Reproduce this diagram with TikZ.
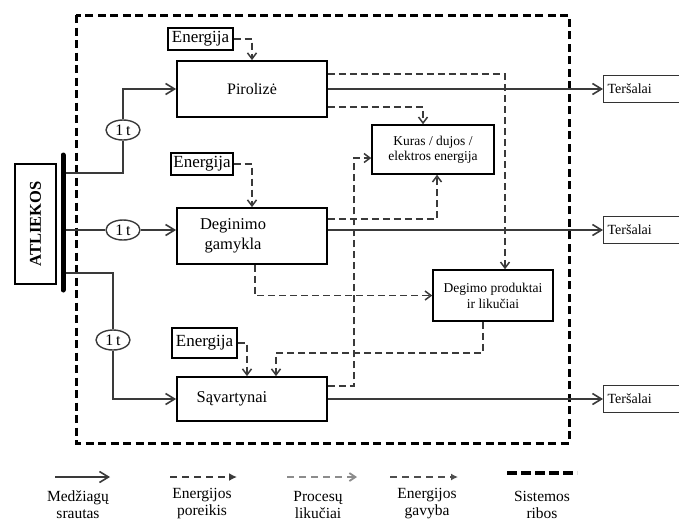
\documentclass[tikz,border=0pt]{standalone}
\usepackage{fontspec}
\setmainfont{Liberation Serif}
\usetikzlibrary{arrows.meta,calc,shapes.geometric}
\definecolor{flowgray}{HTML}{3A3A3A}
\definecolor{resgray}{HTML}{8C8C8C}
\begin{document}
\begin{tikzpicture}[x=1pt,y=-1pt,
  box/.style={draw=black, line width=1.8pt, fill=white, inner sep=0pt, align=center, font=\fontsize{16}{19}\selectfont},
  ebox/.style={draw=black, line width=1.2pt, fill=white, inner sep=0pt, align=center, font=\fontsize{17}{19}\selectfont},
  tbox/.style={draw=black!80, line width=1.3pt, fill=white, inner xsep=4pt, inner ysep=0pt, text width=80pt, align=left, minimum height=27pt, anchor=west, font=\fontsize{14}{16}\selectfont},
  ell/.style={draw=flowgray, line width=1.4pt, ellipse, fill=white, inner sep=0pt, minimum width=34pt, minimum height=20pt, font=\fontsize{16}{18}\selectfont},
  line/.style={draw=flowgray, line width=1.6pt},
  flow/.style={draw=flowgray, line width=1.6pt, -{Straight Barb[length=9pt,width=11pt,line width=1.6pt]}},
  dflow/.style={draw=flowgray, line width=1.7pt, dash pattern=on 7pt off 4pt, -{Straight Barb[length=6pt,width=9pt,line width=1.5pt]}},
  border/.style={draw=black, line width=3pt, dash pattern=on 8pt off 4.5pt},
  leg/.style={align=center, font=\fontsize{15.5}{17}\selectfont}
]
\clip (0,0) rectangle (679,523);
\useasboundingbox (0,0) rectangle (679,523);
\fill[white] (0,0) rectangle (679,523);

% system boundary
\draw[border] (76,15) rectangle (569,443);

% main boxes
\node[box, minimum width=150pt, minimum height=56pt] (pir) at (252,89) {Pirolizė};
\node[box, minimum width=150pt, minimum height=56pt,
  label={[align=center, font=\fontsize{16.5}{20}\selectfont, xshift=-19pt]center:{Deginimo\\gamykla}}] (deg) at (252,236) {};
\node[box, minimum width=150pt, minimum height=44pt,
  label={[font=\fontsize{16.5}{19}\selectfont, xshift=-20pt]center:{Sąvartynai}}] (sav) at (252,399) {};
\node[box, line width=1.5pt, minimum width=122pt, minimum height=49pt, font=\fontsize{13.5}{15}\selectfont] (kur) at (433,149.5) {Kuras / dujos /\\elektros energija};
\node[box, line width=1.5pt, minimum width=120pt, minimum height=51pt, font=\fontsize{13.5}{16}\selectfont] (dp) at (493,295.5) {Degimo produktai\\ir likučiai};

% energy boxes
\node[ebox, minimum width=65pt, minimum height=22pt] (e1) at (200.5,39) {Energija};
\node[ebox, minimum width=62pt, minimum height=22pt] (e2) at (202,164) {Energija};
\node[ebox, minimum width=65pt, minimum height=30pt] (e3) at (204.5,343) {Energija};

% pollutant boxes
\node[tbox] (t1) at (603,89) {Teršalai};
\node[tbox] (t2) at (603,230) {Teršalai};
\node[tbox] (t3) at (603,399) {Teršalai};

% waste source
\node[box, line width=1.5pt, rotate=90, minimum width=120pt, minimum height=41pt, font=\fontsize{16.5}{19}\selectfont\bfseries] (atl) at (35.5,224) {ATLIEKOS};
\coordinate (bt) at (63,155);
\coordinate (bb) at (63,290);
\coordinate (b1) at (63,173);
\coordinate (b2) at (63,230);
\coordinate (b3) at (63,273);

% 1 t ellipses
\node[ell] (o1) at (123,130) {1\,t};
\node[ell] (o2) at (123,230) {1\,t};
\node[ell] (o3) at (113,340) {1\,t};

% material flows
\draw[line] (b1) -| (o1.south);
\draw[flow] (o1.north) |- (pir.west);
\draw[line] (b2) -- (o2.west);
\draw[flow] (o2.east) -- (o2 -| deg.west);
\draw[line] (b3) -| (o3.north);
\draw[flow] (o3.south) |- (sav.west);
\draw[line width=5pt, line cap=round, draw=black] (bt) -- (bb);

% process residues / energy recovery (dashed)
\coordinate (p1) at ($(pir.north east)+(0,14)$);
\draw[dflow] (p1) -| ([xshift=12pt]dp.north);
\coordinate (p2) at ($(pir.south east)+(0,-11)$);
\draw[dflow] (p2) -| ([xshift=-10pt]kur.north);
\coordinate (g1) at ($(deg.north east)+(0,12)$);
\draw[dflow] (g1) -| ([xshift=4pt]kur.south);
\draw[dflow] ([xshift=3pt]deg.south) |- (dp.west);
\coordinate (s1) at ($(sav.north east)+(0,10)$);
\coordinate (ka) at ($(kur.west)+(0,8.5)$);
\draw[dflow] (s1) -| ([xshift=-17pt]ka) -- (ka);
\draw[dflow] ([xshift=-10pt]dp.south) -- ++(0,31) -| ([xshift=24pt]sav.north);

% energy demand
\draw[dflow] (e1.east) -| (pir.north);
\draw[dflow] (e2.east) -| (deg.north);
\draw[dflow] (e3.east) -| ([xshift=-5pt]sav.north);

% material outputs
\draw[flow] (pir.east) -- (t1.west);
\draw[flow] (o2 -| deg.east) -- (t2.west);
\draw[flow] (sav.east) -- (t3.west);

% legend
\coordinate (la1) at (55,477);  \coordinate (lb1) at (110,477);
\coordinate (la2) at (170,477); \coordinate (lb2) at (237,477);
\coordinate (la3) at (287,477); \coordinate (lb3) at (357,477);
\coordinate (la4) at (390,477); \coordinate (lb4) at (458,477);
\coordinate (la5) at (507,473); \coordinate (lb5) at (577,473);
\draw[flow] (la1) -- (lb1);
\draw[draw=flowgray, line width=2pt, dash pattern=on 7pt off 5pt, -{Latex[length=8pt,width=8pt]}] (la2) -- (lb2);
\draw[draw=resgray, line width=2pt, dash pattern=on 7pt off 5pt, -{Straight Barb[length=6pt,width=8pt,line width=1.8pt]}] (la3) -- (lb3);
\draw[draw=flowgray!90, line width=2pt, dash pattern=on 7pt off 5pt, -{Latex[length=7pt,width=7pt]}] (la4) -- (lb4);
\draw[line width=4pt, dash pattern=on 10pt off 4pt] (la5) -- (lb5);
\node[leg] (lg1) at (78,505) {Medžiagų\\srautas};
\node[leg] (lg2) at (202,504) {Energijos\\poreikis};
\node[leg] (lg3) at (318,505) {Procesų\\likučiai};
\node[leg] (lg4) at (427,504) {Energijos\\gavyba};
\node[leg] (lg5) at (542,505) {Sistemos\\ribos};
\end{tikzpicture}
\end{document}
